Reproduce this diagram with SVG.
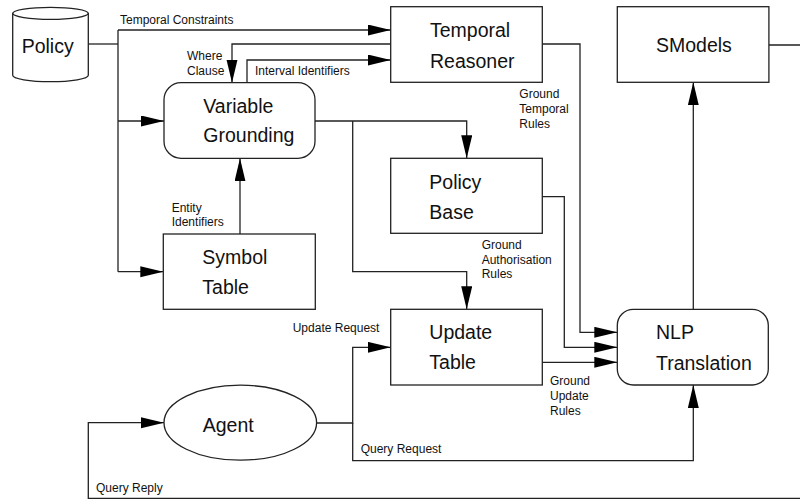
<svg xmlns="http://www.w3.org/2000/svg" width="800" height="500" viewBox="0 0 800 500">
<style>
.box{fill:#fff;stroke:#222;stroke-width:1.3}
.n{font-family:"Liberation Sans",Arial,sans-serif;font-size:19.5px;fill:#111}
.l{font-family:"Liberation Sans",Arial,sans-serif;font-size:12px;fill:#111}
.c{fill:none;stroke:#222;stroke-width:1.3}
</style>
<defs>
<marker id="a" markerUnits="userSpaceOnUse" markerWidth="24" markerHeight="12" refX="23" refY="5.5" orient="auto">
<path d="M0,0 L23,5.5 L0,11 Z" fill="#000"/>
</marker>
</defs>
<rect width="800" height="500" fill="#fff"/>
<g id="connectors">
<path class="c" d="M88.3,44 H118"/>
<path class="c" d="M118,30 V271.7"/>
<path class="c" d="M118,30 H390.7" marker-end="url(#a)"/>
<path class="c" d="M390.7,44 H232 V82.7" marker-end="url(#a)"/>
<path class="c" d="M247,82.7 V60 H390.7" marker-end="url(#a)"/>
<path class="c" d="M118,121 H164" marker-end="url(#a)"/>
<path class="c" d="M315,121 H466.7 V158.3" marker-end="url(#a)"/>
<path class="c" d="M352.7,121 V271.7 H466.7 V309.3" marker-end="url(#a)"/>
<path class="c" d="M118,271.7 H163.3" marker-end="url(#a)"/>
<path class="c" d="M240,234 V158.3" marker-end="url(#a)"/>
<path class="c" d="M542.3,44 H580 V332.3 H617.3" marker-end="url(#a)"/>
<path class="c" d="M542.3,196.7 H564.3 V347.3 H617.3" marker-end="url(#a)"/>
<path class="c" d="M542.3,362.3 H617.3" marker-end="url(#a)"/>
<path class="c" d="M693.3,309.3 V82.3" marker-end="url(#a)"/>
<path class="c" d="M316.7,423 H352.7 V347.3 H390.7" marker-end="url(#a)"/>
<path class="c" d="M352.7,423 V460.7 H693.3 V385" marker-end="url(#a)"/>
<path class="c" d="M768.9,45 H802 V498.3 H88.3 V422.7 H164" marker-end="url(#a)"/>
<text class="l" x="120" y="23.7">Temporal Constraints</text>
<text class="l" x="187" y="60">Where</text>
<text class="l" x="187" y="75">Clause</text>
<text class="l" x="255" y="75">Interval Identifiers</text>
<text class="l" x="519.3" y="97.7">Ground</text>
<text class="l" x="519.3" y="112.7">Temporal</text>
<text class="l" x="519.3" y="127.7">Rules</text>
<text class="l" x="171.7" y="211.7">Entity</text>
<text class="l" x="171.7" y="226">Identifiers</text>
<text class="l" x="481.7" y="249.3">Ground</text>
<text class="l" x="481.7" y="264">Authorisation</text>
<text class="l" x="481.7" y="278.3">Rules</text>
<text class="l" x="292.7" y="332.3">Update Request</text>
<text class="l" x="550" y="385">Ground</text>
<text class="l" x="550" y="400">Update</text>
<text class="l" x="550" y="415">Rules</text>
<text class="l" x="360.7" y="453.3">Query Request</text>
<text class="l" x="96" y="491.7">Query Reply</text>
</g>
<g id="policy">
<path class="box" d="M12.7,13.3 V75.3 A37.8,6.4 0 0 0 88.3,75.3 V13.3 A37.8,6 0 0 0 12.7,13.3 Z"/>
<path class="c" d="M12.7,13.3 A37.8,6 0 0 0 88.3,13.3"/>
<text class="n" x="21.7" y="53.3">Policy</text>
</g>
<g id="temporal-reasoner">
<rect class="box" x="390.7" y="6.7" width="151.6" height="75.6"/>
<text class="n" x="430" y="37.3">Temporal</text>
<text class="n" x="430" y="68.3">Reasoner</text>
</g>
<g id="smodels">
<rect class="box" x="617.3" y="6.7" width="151.6" height="75.6"/>
<text class="n" x="656" y="52.3">SModels</text>
</g>
<g id="variable-grounding">
<rect class="box" x="164" y="82.7" width="151" height="75.6" rx="17" ry="17"/>
<text class="n" x="203.3" y="113">Variable</text>
<text class="n" x="203.3" y="142">Grounding</text>
</g>
<g id="policy-base">
<rect class="box" x="390.7" y="158.3" width="151.6" height="75"/>
<text class="n" x="429.3" y="189.3">Policy</text>
<text class="n" x="429.3" y="219.3">Base</text>
</g>
<g id="symbol-table">
<rect class="box" x="163.3" y="234" width="152" height="75.3"/>
<text class="n" x="202.3" y="264.3">Symbol</text>
<text class="n" x="202.3" y="294.3">Table</text>
</g>
<g id="update-table">
<rect class="box" x="390.7" y="309.3" width="151.6" height="75.7"/>
<text class="n" x="429.3" y="339.3">Update</text>
<text class="n" x="429.3" y="369.3">Table</text>
</g>
<g id="nlp-translation">
<rect class="box" x="617.3" y="309.3" width="151" height="75.7" rx="16" ry="16"/>
<text class="n" x="656" y="339.3">NLP</text>
<text class="n" x="656" y="370">Translation</text>
</g>
<g id="agent">
<ellipse class="box" cx="240.3" cy="422.7" rx="76.3" ry="37.5"/>
<text class="n" x="202.7" y="431.7">Agent</text>
</g>
</svg>
